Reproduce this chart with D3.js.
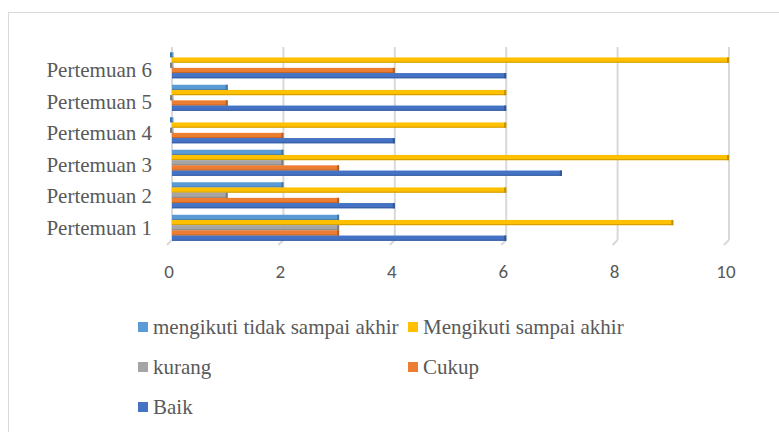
<!DOCTYPE html>
<html>
<head>
<meta charset="utf-8">
<script src="https://cdn.jsdelivr.net/npm/d3@7"></script>
<style>
  body { margin: 0; background: #fff; }
  svg { display: block; }
</style>
</head>
<body>
<svg id="chart" width="779" height="432"></svg>
<script>
// data
var categories = ["Pertemuan 1", "Pertemuan 2", "Pertemuan 3", "Pertemuan 4", "Pertemuan 5", "Pertemuan 6"];
var seriesNames = ["mengikuti tidak sampai akhir", "Mengikuti sampai akhir", "kurang", "Cukup", "Baik"];
var seriesColors = ["#5B9BD5", "#FFC000", "#A5A5A5", "#ED7D31", "#4472C4"];
var mengikutiTidak = [3, 2, 2, 0, 1, 0];
var mengikutiSampai = [9, 6, 10, 6, 6, 10];
var kurang = [3, 1, 2, 0, 0, 0];
var cukup = [3, 3, 3, 2, 1, 4];
var baik = [6, 4, 7, 4, 6, 6];
var xTicks = [0, 2, 4, 6, 8, 10];

var seriesValues = [mengikutiTidak, mengikutiSampai, kurang, cukup, baik];

var svg = d3.select("#chart");
var textColor = "#595959";
var serif = "'Liberation Serif', 'Times New Roman', serif";

// outer border
svg.append("rect")
    .attr("x", 8.5).attr("y", 12.5)
    .attr("width", 800).attr("height", 440)
    .attr("fill", "none")
    .attr("stroke", "#d9d9d9");

var x = d3.scaleLinear().domain([0, 10]).range([172, 729]);
var y = d3.scaleBand()
    .domain(categories.slice().reverse())
    .range([49, 244])
    .paddingInner(0.2)
    .paddingOuter(0.1);
var yInner = d3.scaleBand()
    .domain(seriesNames)
    .range([0, y.bandwidth()]);
// labels sit on the 3D back wall, a bit tighter than the bars
var yLabel = d3.scalePoint()
    .domain(categories.slice().reverse())
    .range([77, 235]);

var gridTop = 47, gridBottom = 240;

// gridlines with a small 3D floor tail
var grid = svg.append("g");
grid.selectAll("line.v")
  .data(xTicks)
  .enter().append("line")
    .attr("class", "v")
    .attr("x1", function(d) { return x(d); })
    .attr("x2", function(d) { return x(d); })
    .attr("y1", gridTop)
    .attr("y2", gridBottom)
    .attr("stroke", "#d9d9d9")
    .attr("stroke-width", 2);
grid.selectAll("line.t")
  .data(xTicks)
  .enter().append("line")
    .attr("class", "t")
    .attr("x1", function(d) { return x(d); })
    .attr("x2", function(d) { return x(d) - 5; })
    .attr("y1", gridBottom)
    .attr("y2", gridBottom + 5)
    .attr("stroke", "#d9d9d9")
    .attr("stroke-width", 2);

// tick labels
svg.append("g").selectAll("text")
  .data(xTicks)
  .enter().append("text")
    .attr("x", function(d) { return x(d) - 3; })
    .attr("y", 278)
    .attr("text-anchor", "middle")
    .attr("font-family", "Carlito, 'Liberation Sans', sans-serif")
    .attr("font-size", 19)
    .attr("fill", textColor)
    .text(function(d) { return d; });

// bars
var bars = [];
categories.forEach(function(c, i) {
  seriesNames.forEach(function(s, j) {
    bars.push({ cat: c, series: s, value: seriesValues[j][i], color: seriesColors[j] });
  });
});

var barG = svg.append("g");
var b = barG.selectAll("g.bar")
  .data(bars)
  .enter().append("g")
    .attr("class", "bar")
    .attr("transform", function(d) { return "translate(0," + (y(d.cat) + yInner(d.series)) + ")"; });

b.append("rect")
    .attr("x", x(0))
    .attr("y", 0)
    .attr("width", function(d) { return Math.max(1.5, x(d.value) - x(0)); })
    .attr("height", yInner.bandwidth())
    .attr("fill", function(d) { return d.color; });
b.append("rect")
    .attr("x", x(0))
    .attr("y", yInner.bandwidth() - 1)
    .attr("width", function(d) { return Math.max(1.5, x(d.value) - x(0)); })
    .attr("height", 1)
    .attr("fill", function(d) { return d3.color(d.color).darker(0.6); });
b.append("rect")
    .attr("x", function(d) { return x(d.value) - 2; })
    .attr("y", 0)
    .attr("width", 2)
    .attr("height", yInner.bandwidth())
    .attr("fill", function(d) { return d3.color(d.color).darker(0.8); });

// category labels
svg.append("g").selectAll("text")
  .data(categories)
  .enter().append("text")
    .attr("x", 152)
    .attr("y", function(d) { return yLabel(d); })
    .attr("text-anchor", "end")
    .attr("font-family", serif)
    .attr("font-size", 21)
    .attr("fill", textColor)
    .text(function(d) { return d; });

// legend
var legendPos = [
  { x: 138, y: 327 }, { x: 408, y: 327 },
  { x: 138, y: 367 }, { x: 408, y: 367 },
  { x: 138, y: 407 }
];
var legendOrder = [0, 1, 2, 3, 4];
var lg = svg.append("g").selectAll("g")
  .data(legendOrder)
  .enter().append("g")
    .attr("transform", function(d, i) { return "translate(" + legendPos[i].x + "," + legendPos[i].y + ")"; });
lg.append("rect")
    .attr("x", 0).attr("y", -5)
    .attr("width", 10).attr("height", 10)
    .attr("fill", function(d) { return seriesColors[d]; });
lg.append("text")
    .attr("x", 15)
    .attr("y", 7)
    .attr("font-family", serif)
    .attr("font-size", 21)
    .attr("fill", textColor)
    .text(function(d) { return seriesNames[d]; });
</script>
</body>
</html>
